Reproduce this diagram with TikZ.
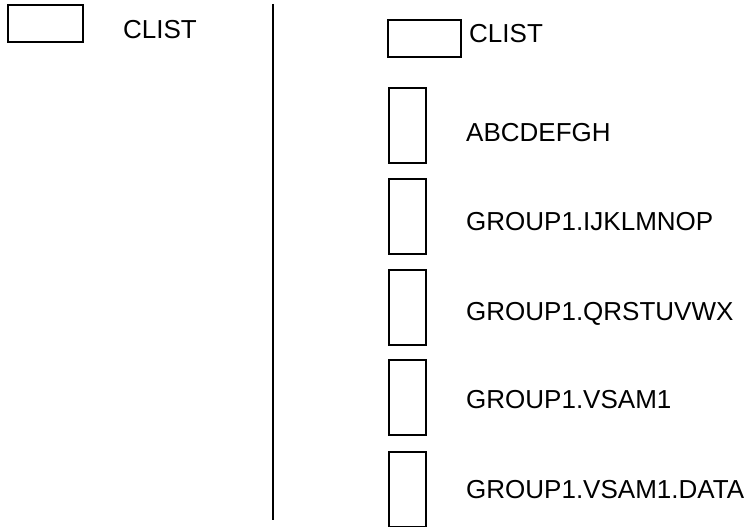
\documentclass[tikz,border=0pt]{standalone}
\usepackage{fontspec}
\setmainfont{Liberation Sans}
\usepackage{tikz}
\usetikzlibrary{positioning}

\begin{document}
\begin{tikzpicture}[x=1pt,y=-1pt,
  box/.style={draw,line width=2pt,inner sep=0pt,minimum width=75pt,minimum height=37pt},
  member/.style={draw,line width=2pt,inner sep=0pt,minimum width=37pt,minimum height=75pt},
  label/.style={anchor=base west,inner sep=0pt,font=\fontsize{26}{30}\selectfont}]
\useasboundingbox (0,0) rectangle (747,527);
% --- left side: the library on its own
\node[box] (libA) at (45.5,24) {};
\node[label] (libAtxt) at (123,39) {CLIST};
% --- divider
\coordinate (top) at (273,4);
\coordinate (bot) at (273,520);
\draw[line width=2pt] (top) -- (bot);
% --- right side: the library and its members
\node[box,minimum width=73pt] (libB) at (424.5,38.5) {};
\node[label] (libBtxt) at (469,43) {CLIST};
\foreach \i/\yb/\yt/\name in {1/125/141/ABCDEFGH,
                              2/216.5/230/GROUP1.IJKLMNOP,
                              3/307.5/320/GROUP1.QRSTUVWX,
                              4/397.5/408/GROUP1.VSAM1,
                              5/489/498/GROUP1.VSAM1.DATA} {
  \node[member] (mem\i) at (407.5,\yb) {};
  \node[label] (memtxt\i) at (466,\yt) {\name};
}
\end{tikzpicture}
\end{document}
